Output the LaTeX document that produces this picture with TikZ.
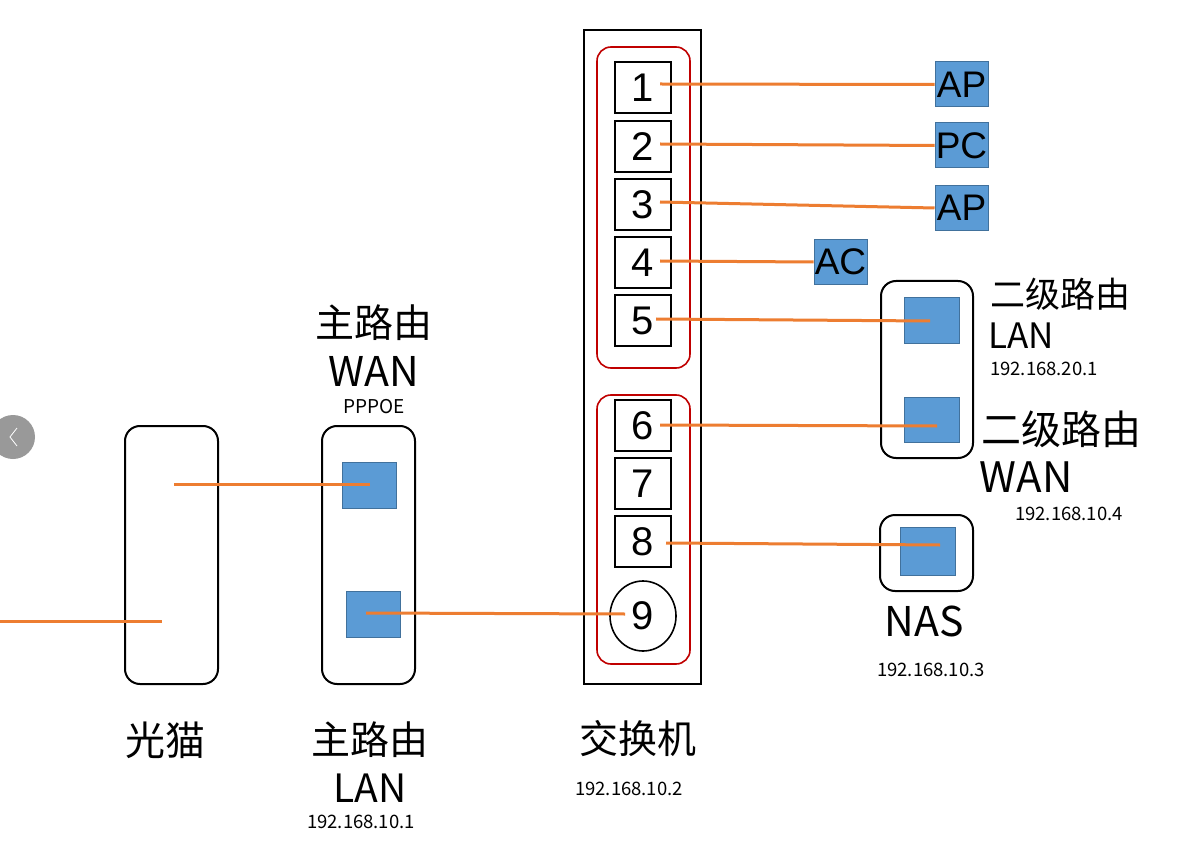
\documentclass[tikz,border=0pt]{standalone}
\usepackage{fontspec}
\usetikzlibrary{shapes.geometric}
\setmainfont{Noto Sans CJK SC}
\newfontfamily\arialf{Liberation Sans}
\definecolor{cableor}{HTML}{ED7D31}
\definecolor{portblue}{HTML}{5B9BD5}
\definecolor{portedge}{HTML}{41719C}
\definecolor{grpred}{HTML}{C00000}
\tikzset{
  dev/.style={draw, line width=2pt, rounded corners=15pt, inner sep=0pt},
  grp/.style={draw=grpred, line width=1.6pt, rounded corners=14pt, inner sep=0pt},
  port/.style={draw=portedge, fill=portblue, line width=1pt, inner sep=0pt},
  swport/.style={draw, line width=1.6pt, minimum width=56pt, minimum height=51pt, inner sep=0pt, font=\arialf\fontsize{40}{40}\selectfont},
  tag/.style={port, minimum width=53pt, minimum height=45pt, font=\arialf\fontsize{37}{37}\selectfont},
  cable/.style={draw=cableor, line width=3pt},
  big/.style={inner sep=0pt, font=\fontsize{39}{42}\selectfont},
  lat/.style={inner sep=0pt, font=\fontsize{41}{43}\selectfont},
  ip/.style={inner sep=0pt, font=\fontsize{18.5}{19}\selectfont}
}
\begin{document}
\begin{tikzpicture}[x=1pt,y=-1pt]
\useasboundingbox[fill=white] (0,0) rectangle (1193,866);
% carousel arrow
\node[circle, fill=black!40, minimum size=44pt, inner sep=0pt] (nav) at (13,437) {};
\draw[white, line width=0.8pt] (17,428) -- (10,437) -- (17,446);
% devices
\node[dev, minimum width=93pt, minimum height=258pt] (modem) at (171.5,555) {};
\node[dev, minimum width=93pt, minimum height=258pt] (router) at (368.5,555) {};
\node[port, minimum width=54pt, minimum height=46pt] (rwan) at (369,485) {};
\node[port, minimum width=54pt, minimum height=46pt] (rlan) at (373,614) {};
\node[draw, line width=2pt, minimum width=117pt, minimum height=654pt, inner sep=0pt] (switch) at (642.5,357) {};
\node[grp, minimum width=93pt, minimum height=321pt] (g1) at (643.5,207.5) {};
\node[grp, minimum width=93pt, minimum height=269pt] (g2) at (643.5,529.5) {};
\node[swport] (p1) at (643,87.5) {1};
\node[swport] (p2) at (643,146.5) {2};
\node[swport] (p3) at (643,204.5) {3};
\node[swport] (p4) at (643,262.5) {4};
\node[swport] (p5) at (643,320.5) {5};
\node[swport] (p6) at (643,425.5) {6};
\node[swport] (p7) at (643,483.5) {7};
\node[swport] (p8) at (643,541.5) {8};
\node[ellipse, draw, line width=1.6pt, minimum width=66pt, minimum height=70pt, inner sep=0pt, font=\arialf\fontsize{40}{40}\selectfont] (p9) at (643,616) {9};
% endpoints
\node[tag] (ap1) at (961.5,84.5) {AP};
\node[tag] (pc) at (961.5,145.5) {PC};
\node[tag] (ap2) at (961.5,208) {AP};
\node[tag] (ac) at (840.5,262) {AC};
\node[dev, minimum width=92pt, minimum height=177pt] (r2) at (927,369.5) {};
\node[port, minimum width=55pt, minimum height=45pt] (r2lan) at (931.5,320.5) {};
\node[port, minimum width=55pt, minimum height=45pt] (r2wan) at (931.5,419.5) {};
\node[dev, minimum width=93pt, minimum height=76pt] (nas) at (926.5,553) {};
\node[port, minimum width=55pt, minimum height=48pt] (nasp) at (927.5,551) {};
% cable ends
\coordinate (m1) at (0,621);
\coordinate (m2) at (162,621);
\coordinate (m3) at (174,484);
\coordinate (rw) at (370,484);
\coordinate (rl) at (366,613);
\coordinate (s9) at (625,614);
\coordinate (s1) at (660,84);
\coordinate (s2) at (660,144);
\coordinate (s3) at (660,202);
\coordinate (s4) at (660,261);
\coordinate (s5) at (656,319);
\coordinate (s6) at (660,425);
\coordinate (s8) at (666,543);
\coordinate (e5) at (930,321);
\coordinate (e6) at (937,426);
\coordinate (e8) at (940,545);
\draw[cable] (m1) -- (m2);
\draw[cable] (m3) -- (rw);
\draw[cable] (rl) -- (s9);
\draw[cable] (s1) -- (ap1.west);
\draw[cable] (s2) -- (pc.west);
\draw[cable] (s3) -- (ap2.west);
\draw[cable] (s4) -- (ac.west);
\draw[cable] (s5) -- (e5);
\draw[cable] (s6) -- (e6);
\draw[cable] (s8) -- (e8);
% labels
\node[big] (lmr1) at (374,323) {主路由};
\node[lat] (lmr2) at (374,371) {WAN};
\node[inner sep=0pt, font=\fontsize{19}{19}\selectfont] (lpp) at (374,407) {PPPOE};
\node[big, font=\fontsize{40}{42}\selectfont] (lgm) at (165,740) {光猫};
\node[big] (lmr3) at (370,740) {主路由};
\node[lat, font=\fontsize{39}{41}\selectfont] (lmr4) at (370,788) {LAN};
\node[ip] (ip1) at (361,822) {192.168.10.1};
\node[big] (lsw) at (638,739) {交换机};
\node[ip] (ip2) at (629,789) {192.168.10.2};
\node[big, font=\fontsize{35}{37}\selectfont] (l2a) at (1060,294) {二级路由};
\node[big, font=\fontsize{35}{37}\selectfont] (l2b) at (1021,336) {LAN};
\node[ip] (ip3) at (1044,369) {192.168.20.1};
\node[big, font=\fontsize{40}{42}\selectfont] (l2c) at (1061,429) {二级路由};
\node[lat, font=\fontsize{42}{44}\selectfont] (l2d) at (1026,477) {WAN};
\node[ip] (ip4) at (1069,514) {192.168.10.4};
\node[lat] (lnas) at (924,621) {NAS};
\node[ip] (ip5) at (931,670) {192.168.10.3};
\end{tikzpicture}
\end{document}
